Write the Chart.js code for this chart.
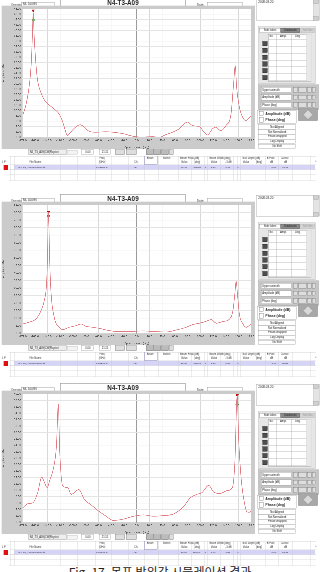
<!DOCTYPE html>
<html><head><meta charset="utf-8">
<script src="https://cdn.jsdelivr.net/npm/chart.js@4/dist/chart.umd.min.js"></script>
<style>
html,body{margin:0;padding:0;background:#fff;}
body{width:320px;height:572px;overflow:hidden;position:relative;}
.panel{position:absolute;left:0;width:960px;height:570px;transform:scale(0.333333);transform-origin:0 0;font-family:"Liberation Sans",Arial,sans-serif;color:#222;}
.el{position:absolute;box-sizing:border-box;white-space:nowrap;overflow:hidden;}
#caption{position:absolute;left:0;top:563px;width:320px;text-align:center;font:12px "Noto Sans CJK KR",sans-serif;color:#222;white-space:nowrap;}
</style></head>
<body>
<div id="caption">Fig. 17. 목표 방위각 시뮬레이션 결과</div>
<script>
// ---- data ----
const xTicks = [-179,-160,-140,-120,-100,-80,-60,-40,-20,0,20,40,60,80,100,120,140,160,179];

const az1  = [-179,-174,-170,-167,-165,-163.5,-162.5,-161,-159,-156,-150,-145,-140,-130,-122,-117,-112,-109,-104,-96,-89,-83,-75,-64.5,-48.7,-33,-20,-9.4,-1.6,9,24.6,35,45.6,56,66.6,74,79.7,87.5,98,106,111,119,124,132,140,148,152,154.6,156.7,161,166,171,176.6,179];
const amp1 = [8.2,12,17,23,30,40,47,38,30,22,16.5,14,12.6,10.7,8.8,6.3,2.5,0.6,1.9,3.8,4.7,4.0,2.3,1.9,2.1,1.8,1.3,0.6,0.25,0.1,0.25,0,1,1.9,3.2,5,5.7,4.4,4,1.9,0.9,3.2,3.8,2.5,4.4,8.8,20,26.8,19,11.4,7.6,6.3,7.3,7.8];

const az2  = [-179,-169,-158,-150,-145,-141.5,-140,-138.4,-136.8,-134.7,-129.5,-121.6,-116,-106,-95,-87.5,-80,-69,-58.7,-43,-27,-6,9.4,30,46,62,77.6,88,98.5,109,117,125,135,146,151,154,156,158,161,166.7,172,177,179];
const amp2 = [6.2,7.4,9.6,15.2,21.9,33,51,80,51,28.6,10.7,4,2.5,4,5.1,6.2,4.7,4,3.3,1.8,1.1,1.3,1.6,1.1,0.9,2.2,4,5.8,6.7,8,9.1,6.7,7.8,9.6,15.2,26.3,34.8,26.3,13,6.2,4,5.4,6.2];

const az3  = [-179,-171,-163,-155.5,-149,-145.6,-140.4,-137,-130,-126,-123,-121,-116,-108,-103,-91,-82,-72,-59,-48,-37,-21,-5,10.5,26,42,57.6,73,84,94,102,113,121,131,142,150,154,157.6,160,164,169,174,179];
const amp3 = [4.5,5.8,6.1,9.2,14.1,12.8,10.8,12.8,17.5,23.8,36.9,22.8,11.3,10.8,8.7,10.2,7.1,5.5,3.4,1.9,0.6,1.0,1.9,2.3,1.9,2.1,2.6,4.8,7.6,8.7,9.2,11.5,9.4,9.0,9.9,10.8,18.6,39.7,25.9,13.4,6.1,2.9,3.4];

const markerAz  = [-162.5, -138.4, 157.6];
const peakAmp   = [47.4, 80.3, 39.7];
const cursorAmp = [43.9, 77.6, 36.8];
const yMax  = [48, 85, 40];
const yStep = [2, 5, 2];

const rowValues = [
  ["N4_T3_A09(CW)Rcp.txt","1.42750 G","AB","47.43","-162.50","F","1.90","3.40","F","-0.07","43.41"],
  ["N4_T3_A09(CW)Rcp.txt","7.57500 G","AB","80.30","-138.40","F","1.30","5.00","F","-1.40","35.89"],
  ["N4_T3_A09(CW)Rcp.txt","1.60000 G","AB","39.70","157.60","F","1.40","3.80","F","-0.09","37.17"]
];
const sideButtons = ["Not Aligned","Not Normalized","Phase wrapped","Log Display","No Shift"];
const ctrlRows = ["Upper azimuth","Amplitude (dB)","Phase (deg)"];

// ---- helpers ----
function el(p,x,y,w,h,css,text){
  const d=document.createElement('div');d.className='el';
  d.style.cssText=`left:${x}px;top:${y}px;`+(w!=null?`width:${w}px;`:'')+(h!=null?`height:${h}px;`:'')+(css||'');
  if(text!=null)d.textContent=text;p.appendChild(d);return d;
}
const plotBg={id:'plotBg',beforeDraw(c){const a=c.chartArea,ctx=c.ctx;ctx.save();ctx.fillStyle='#fff';ctx.fillRect(a.left,a.top,a.width,a.height);ctx.restore();}};

function buildPanel(i, top, az, amp){
  const p=document.createElement('div');p.className='panel';p.style.top=top+'px';document.body.appendChild(p);
  // header
  el(p,33,26,32,14,'font-size:9px;line-height:14px;color:#333;','Operator');
  el(p,65,24,100,15,'border:1px solid #777;font-size:9px;line-height:13px;padding-left:3px;','ML 1009N');
  el(p,180,13,378,27,'border:2px solid #999;font-weight:bold;font-size:19px;line-height:22px;text-align:center;','N4-T3-A09');
  el(p,590,26,30,14,'font-size:10px;line-height:14px;color:#333;','Date');
  el(p,622,24,106,15,'border:1px solid #777;');
  el(p,770,15,188,66,'border:1px solid #888;font-size:9px;padding:3px 4px;','2008.03.20');
  el(p,940,16,17,64,'background:#e4e4e4;border-left:1px solid #aaa;');
  el(p,941,17,15,12,'background:#d0d0d0;border:1px solid #999;');
  el(p,941,67,15,12,'background:#d0d0d0;border:1px solid #999;');
  // chart frame
  const fr=el(p,5,35,760,430,'background:#cbcbcb;');
  const cv=document.createElement('canvas');cv.width=760;cv.height=430;cv.style.cssText='display:block;width:760px;height:430px;';fr.appendChild(cv);
  // control row
  el(p,85,467,115,16,'border:1px solid #888;background:#eee;font-size:8px;line-height:14px;padding-left:3px;','N4_T3_A09(CW)Rcp.txt');
  el(p,203,469,30,12,'border:1px solid #aaa;background:#f4f4f4;');
  el(p,245,467,37,15,'border:1px solid #888;font-size:8px;line-height:13px;padding-left:10px;','0.00');
  el(p,298,467,34,15,'border:1px solid #888;font-size:8px;line-height:13px;padding-left:6px;','21.15');
  [[345,30],[378,32],[438,22],[461,22],[484,22],[508,12]].forEach(b=>el(p,b[0],467,b[1],16,'border:1px solid #666;background:'+(b[0]>430&&b[0]<500?'#bbb':'#ddd')+';'));
  // table
  const tb=el(p,0,486,960,75,'');
  [[0,'#bbb'],[26,'#ccc'],[41,'#aaa'],[56,'#ccc'],[73,'#ccc']].forEach(h=>el(tb,28,h[0],920,1,'background:'+h[1]+';'));
  el(tb,42,27,903,14,'background:#d6d4f6;');
  [30,42,180,232,285,335,385,432,475,535,575,612,622,662,700,712,722,795,835,878,930].forEach(x=>el(tb,x,0,1,75,'background:#c4c4c4;'));
  el(tb,433,-1,41,27,'border:1.5px solid #55a;');
  el(tb,11,27,13,15,'background:#e01010;');
  const hs='font-size:8px;line-height:10px;color:#333;';
  [["Freq",298,2],["[GHz]",296,13],["Ch.",402,13],["Beam",440,2],["Switch",488,2],["Beam Peak [dB]",540,2],["Value",543,13],["[deg]",583,13],
   ["Beam Width [deg]",628,2],["Value",632,13],["-3 dB",676,13],["Null Depth [dB]",727,2],["Value",728,13],["[deg]",768,13],
   ["B Path",800,2],["Cursor",842,2],["dB",810,13],["dB",852,13],["File Name",88,13],["L P",6,13]].forEach(t=>el(tb,t[1],t[2],null,10,hs,t[0]));
  const rv=rowValues[i];
  [[rv[0],55],[rv[1],288],[rv[2],400],[rv[3],542],[rv[4],578],[rv[5],614],[rv[6],632],[rv[7],676],[rv[8],712],[rv[9],812],[rv[10],846]].forEach(t=>el(tb,t[1],29,null,10,'font-size:7.5px;line-height:10px;color:#223;',t[0]));
  el(tb,945,13,10,10,'font-size:9px;color:#559;','^');
  // right tab panel
  el(p,775,98,172,172,'background:#e6e6e6;border:1px solid #aaa;');
  el(p,779,102,62,15,'background:#fff;border:1px solid #777;font-size:8px;line-height:13px;text-align:center;','Side lobes');
  el(p,842,102,58,15,'background:#8a8a8a;border:1px solid #666;font-size:8px;line-height:13px;text-align:center;color:#222;','Databases');
  el(p,901,102,44,15,'background:#d4d4d4;border:1px solid #bbb;font-size:8px;line-height:13px;text-align:center;color:#999;','Null Info');
  el(p,805,120,131,142,'background:#fff;border:1px solid #777;');
  [830,873,918].forEach(x=>el(p,x,120,1,142,'background:#999;'));
  el(p,919,121,16,140,'background:#e8e8e8;');
  [[808,'No.'],[840,'Ampl.'],[885,'Deg.']].forEach(t=>el(p,t[0],122,null,12,'font-size:8px;line-height:12px;',t[1]));
  for(let r=0;r<7;r++) el(p,805,136+r*20.5,114,1,'background:#999;');
  for(let r=0;r<6;r++) el(p,788,142+r*20.3,14,14,'background:#4e4e4e;border:1px solid #222;');
  // controls
  el(p,775,272,181,76,'background:#c6c6c6;border:1px solid #999;');
  ctrlRows.forEach((t,k)=>{const y=279+k*23;
    el(p,783,y,92,17,'background:#fff;border:1px solid #777;font-size:8px;line-height:15px;padding-left:3px;',t);
    el(p,880,y+1,14,15,'background:#ddd;border:1px solid #666;');
    el(p,896,y+1,24,15,'background:#ddd;border:1px solid #666;');
    el(p,922,y+1,12,15,'background:#ddd;border:1px solid #666;');
    el(p,936,y+1,12,15,'background:#ddd;border:1px solid #666;');});
  el(p,772,348,118,42,'background:#fff;border:1px solid #888;');
  el(p,777,351,15,15,'border:1px solid #555;background:#fff;');
  el(p,777,371,15,15,'border:1px solid #555;background:#fff;');
  el(p,796,351,95,15,'font-weight:bold;font-size:10.5px;line-height:15px;','Amplitude (dB)');
  el(p,796,371,95,15,'font-weight:bold;font-size:10.5px;line-height:15px;','Phase (deg)');
  el(p,895,344,58,36,'background:#a8a8a8;border:1px solid #777;');
  el(p,913,351,22,22,'background:#d8d8d8;border:1px solid #555;transform:rotate(45deg);');
  sideButtons.forEach((t,k)=>el(p,775,392+k*14.6,113,14.6,'background:#fff;border:1px solid #888;font-size:8px;line-height:12.6px;text-align:center;',t));

  // chart
  new Chart(cv,{
    type:'line',
    data:{datasets:[
      {data:az.map((x,k)=>({x,y:amp[k]})),borderColor:'#e07a82',borderWidth:2,pointRadius:0,cubicInterpolationMode:'monotone',fill:false},
      {data:[{x:markerAz[i],y:peakAmp[i]}],showLine:false,pointStyle:'triangle',rotation:180,pointRadius:5,backgroundColor:'#d01010',borderColor:'#a00'},
      {data:[{x:markerAz[i],y:cursorAmp[i]}],showLine:false,pointStyle:'rectRot',pointRadius:5,backgroundColor:'#2fb52f',borderColor:'#1a8a1a'}
    ]},
    plugins:[plotBg],
    options:{
      responsive:false,animation:false,devicePixelRatio:1,
      layout:{padding:{top:10,right:10,left:0,bottom:0}},
      plugins:{legend:{display:false},tooltip:{enabled:false}},
      scales:{
        x:{type:'linear',min:-179,max:179,
          afterBuildTicks:s=>{s.ticks=xTicks.map(v=>({value:v}));},
          afterFit:s=>{s.height=35;},
          ticks:{autoSkip:false,maxRotation:0,padding:2,font:{size:8.5,family:'Liberation Sans'},color:'#333',callback:v=>Number(v).toFixed(1)},
          grid:{color:c=>(c.tick&&c.tick.value===0)?'#999':'#d8d8d8',lineWidth:c=>(c.tick&&c.tick.value===0)?1.6:1.2,tickLength:3},
          border:{display:false},
          title:{display:true,text:'Space azimuth (deg)',font:{size:8,family:'Liberation Sans'},color:'#333',padding:{top:0,bottom:0}}},
        y:{min:0,max:yMax[i],
          afterFit:s=>{s.width=63;},
          ticks:{stepSize:yStep[i],padding:2,font:{size:8.5,family:'Liberation Sans'},color:'#333',callback:v=>Number(v).toFixed(2)},
          grid:{color:'#e4e4e4',lineWidth:1.2,tickLength:3},
          border:{display:false},
          title:{display:true,text:'Amplitude (dB)',font:{size:8,family:'Liberation Sans'},color:'#333',padding:{top:0,bottom:2}}}
      }
    }
  });
}
buildPanel(0,-6,az1,amp1);
buildPanel(1,190,az2,amp2);
buildPanel(2,379,az3,amp3);
</script>
</body></html>
